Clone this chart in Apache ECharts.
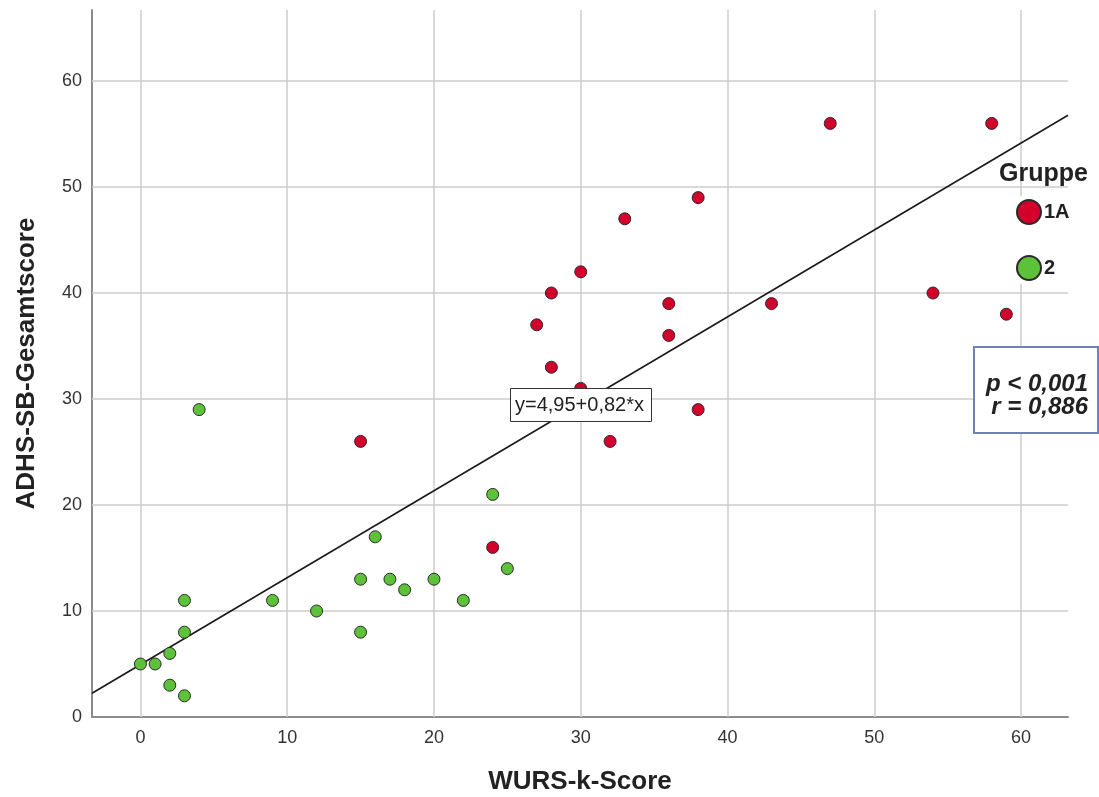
<!DOCTYPE html>
<html><head><meta charset="utf-8">
<script src="https://cdn.jsdelivr.net/npm/echarts@6/dist/echarts.min.js"></script>
<style>html,body{margin:0;padding:0;background:#fff}#c{width:1099px;height:797px}</style>
</head><body><div id="c"></div>
<script>
// Group 1A points [WURS-k-Score, ADHS-SB-Gesamtscore]
const group1A = [[15,26],[24,16],[27,37],[28,40],[28,33],[30,42],[30,31],[32,26],[33,47],[36,39],[36,36],[38,49],[38,29],[43,39],[47,56],[54,40],[58,56],[59,38]];
// Group 2 points
const group2 = [[0,5],[1,5],[2,6],[2,3],[3,2],[3,8],[3,11],[4,29],[9,11],[12,10],[15,13],[15,8],[16,17],[17,13],[18,12],[20,13],[22,11],[24,21],[25,14]];
// Regression line endpoints (y = 4.95 + 0.82x)
const regLine = [[-3.3,2.24],[63.2,56.77]];
const xTicks = [0,10,20,30,40,50,60];
const yTicks = [0,10,20,30,40,50,60];
const seriesNames = ['1A','2'];
const xTitle = 'WURS-k-Score';
const yTitle = 'ADHS-SB-Gesamtscore';
const legendTitle = 'Gruppe';
const regLabel = 'y=4,95+0,82*x';
const statLines = ['p < 0,001','r = 0,886'];

const chart = echarts.init(document.getElementById('c'));
const F = '"Liberation Sans", Arial, sans-serif';
const gridStyle = {color:'#cccccc',width:1.5,type:'solid'};
const gridLines = xTicks.map(v=>({xAxis:v}))
  .concat(yTicks.filter(v=>v>0).map(v=>({yAxis:v})));
chart.setOption({
  animation:false,
  textStyle:{fontFamily:F},
  grid:{left:92,right:31,top:10,bottom:80,outerBoundsMode:'none',containLabel:false},
  xAxis:{type:'value',min:-3.3,max:63.2,
    name:xTitle,nameLocation:'middle',nameGap:52,
    nameTextStyle:{fontSize:26,fontWeight:'bold',color:'#222',fontFamily:F},
    axisLine:{show:true,onZero:false,lineStyle:{color:'#8c8c8c',width:2}},
    axisTick:{show:false},
    axisLabel:{fontSize:18,color:'#333',margin:12,customValues:xTicks},
    splitLine:{show:false}},
  yAxis:{type:'value',min:0,max:66.7,
    name:yTitle,nameLocation:'middle',nameGap:52,nameRotate:90,
    nameTextStyle:{fontSize:26,fontWeight:'bold',color:'#222',fontFamily:F},
    axisLine:{show:true,onZero:false,lineStyle:{color:'#8c8c8c',width:2}},
    axisTick:{show:false},
    axisLabel:{fontSize:18,color:'#333',margin:10,customValues:yTicks},
    splitLine:{show:false}},
  title:{text:legendTitle,left:994,top:157,textStyle:{fontSize:25,fontWeight:'bold',color:'#222',fontFamily:F}},
  legend:{orient:'vertical',left:1010,top:196,itemWidth:24,itemHeight:24,itemGap:30,
    backgroundColor:'#fff',padding:[3,4,3,6],
    icon:'circle',
    textStyle:{fontSize:20,fontWeight:'bold',color:'#222',fontFamily:F,padding:[0,0,0,-2]},
    data:seriesNames},
  series:[
    {type:'line',data:regLine,symbol:'none',silent:true,z:3,
      lineStyle:{color:'#1a1a1a',width:1.6},
      markLine:{silent:true,symbol:'none',label:{show:false},lineStyle:gridStyle,z:1,
        emphasis:{disabled:true},data:gridLines}},
    {name:seriesNames[0],type:'scatter',data:group1A,symbolSize:12,z:4,
      itemStyle:{color:'#d2002b',borderColor:'#2a2a2a',borderWidth:1,opacity:1}},
    {name:seriesNames[1],type:'scatter',data:group2,symbolSize:12,z:4,
      itemStyle:{color:'#5ec13a',borderColor:'#2a2a2a',borderWidth:1,opacity:1}}
  ],
  graphic:[
    {type:'rect',left:510,top:388,z:100,zlevel:1,shape:{width:141,height:33},style:{fill:'#fff',stroke:'#333',lineWidth:1}},
    {type:'text',left:515,top:395,z:101,zlevel:1,style:{text:regLabel,fontSize:20,fontFamily:F,fill:'#222'}},
    {type:'rect',left:973,top:346,z:100,zlevel:1,shape:{width:124,height:86},style:{fill:'#fff',stroke:'#6f82b3',lineWidth:2}},
    {type:'text',right:11,top:372,z:101,zlevel:1,style:{text:statLines[0],fontSize:24,fontWeight:'bold',fontStyle:'italic',fontFamily:F,fill:'#222'}},
    {type:'text',right:11,top:395,z:101,zlevel:1,style:{text:statLines[1],fontSize:24,fontWeight:'bold',fontStyle:'italic',fontFamily:F,fill:'#222'}}
  ]
});
</script></body></html>
